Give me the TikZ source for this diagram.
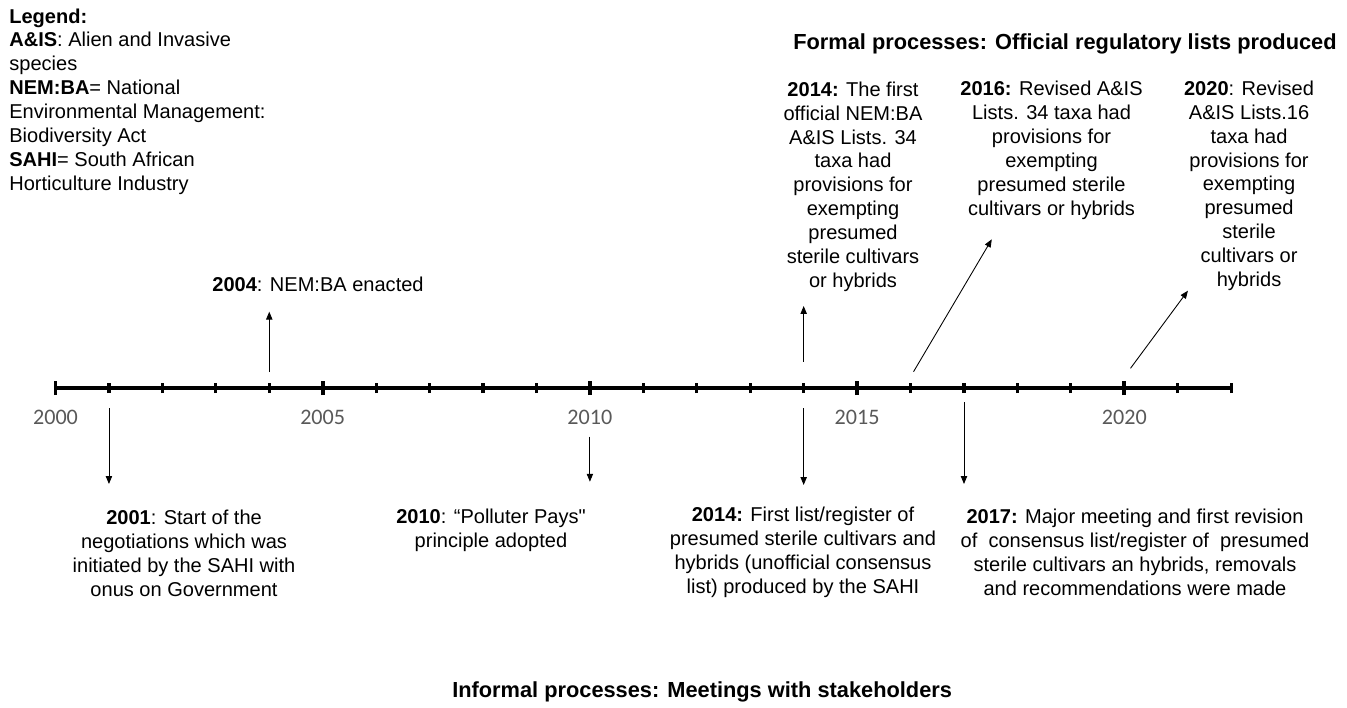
\documentclass[tikz,border=0pt]{standalone}
\usepackage{fontspec}
\setmainfont{Liberation Sans}
\newfontfamily\plainfont{Liberation Sans}
\newfontfamily\yearfont{Carlito}
\usepackage{tikz}
\usetikzlibrary{arrows.meta}
\definecolor{yearGray}{RGB}{89, 89, 89}

\begin{document}
\begin{tikzpicture}[x=1.0688cm, y=1cm, >={Triangle[length=4.5pt, width=3.6pt]},
    event/.style={align=center, inner sep=0pt, font=\fontsize{11.4}{13.6}\selectfont},
    heading/.style={inner sep=0pt, font=\fontsize{12.4}{14}\selectfont\bfseries},
    yearlabel/.style={inner sep=0pt, text=yearGray, font=\yearfont\fontsize{12.6}{14}\selectfont},
    pointer/.style={->, line width=0.5pt}]
    \useasboundingbox (-1.0386,-6.38) rectangle (24.167,7.76);

    % Time axis
    \draw[line width=2.3pt] (0,0) -- (22,0);
    \foreach \yr in {0,...,22}
        \draw[line width=1.8pt] (\yr,-0.1) -- (\yr,0.1);
    \foreach \yr in {0,5,...,20}{
        \draw[line width=2.2pt] (\yr,-0.14) -- (\yr,0.14);
        \node[yearlabel] (yl\yr) at (\yr,-0.594) {\the\numexpr2000+\yr\relax};
    }

    % Legend and headings
    \node[event, align=left, anchor=west] (legend) at (-0.870,5.73) {
        \textbf{Legend:}\\
        \textbf{A\&IS}: Alien and Invasive\\
        species\\
        \textbf{NEM:BA}= National\\
        Environmental Management:\\
        Biodiversity Act\\
        \textbf{SAHI}= South African\\
        Horticulture Industry};
    \node[heading, anchor=east] (formal) at (23.98,6.88) {Formal processes: Official regulatory lists produced};
    \node[heading] (informal) at (12.1,-6.08) {Informal processes: Meetings with stakeholders};

    % Formal processes (above the axis)
    \node[event] (t2004) at (4.912,2.08) {\textbf{2004}: NEM:BA enacted};
    \node[event] (t2014a) at (14.923,4.026) {\textbf{2014:} The first\\ official NEM:BA\\ A\&IS Lists. 34\\ taxa had\\
        provisions for\\ exempting\\ presumed\\ sterile cultivars\\ or hybrids};
    \node[event] (t2016) at (18.638,4.754) {\textbf{2016:} Revised A\&IS\\ Lists. 34 taxa had\\ provisions for\\
        exempting\\ presumed sterile\\ cultivars or hybrids};
    \node[event] (t2020) at (22.334,4.044) {\textbf{2020}: Revised\\ A\&IS Lists.16\\ taxa had\\ provisions for\\
        exempting\\ presumed\\ sterile\\ cultivars or\\ hybrids};

    % Informal processes (below the axis)
    \node[event] (t2001) at (2.405,-3.306) {\textbf{2001}: Start of the\\ negotiations which was\\
        initiated by the SAHI with\\ onus on Government};
    \node[event] (t2010) at (8.149,-2.84) {\textbf{2010}: “Polluter Pays{\plainfont"}\\ principle adopted};
    \node[event] (t2014b) at (13.987,-3.28) {\textbf{2014:} First list/register of\\ presumed sterile cultivars and\\
        hybrids (unofficial consensus\\ list) produced by the SAHI};
    \node[event] (t2017) at (20.2,-3.28) {\textbf{2017:} Major meeting and first revision\\
        of\ \ consensus list/register of\ \ presumed\\ sterile cultivars an hybrids, removals\\
        and recommendations were made};

    % Pointers
    \coordinate (s2004) at (4,0.32);      \coordinate (e2004) at (4,1.526);
    \coordinate (s2014a) at (14,0.526);   \coordinate (e2014a) at (14,1.64);
    \coordinate (s2016) at (16.056,0.326); \coordinate (e2016) at (17.52,2.974);
    \coordinate (s2020) at (20.116,0.394); \coordinate (e2020) at (21.19,1.946);
    \coordinate (s2001) at (1,-0.4);      \coordinate (e2001) at (1,-1.92);
    \coordinate (s2010) at (10,-0.974);   \coordinate (e2010) at (10,-1.874);
    \coordinate (s2014b) at (14,-0.4);    \coordinate (e2014b) at (14,-1.94);
    \coordinate (s2017) at (17,-0.28);    \coordinate (e2017) at (17,-1.92);
    \foreach \ev in {2004,2014a,2016,2020,2001,2010,2014b,2017}
        \draw[pointer] (s\ev) -- (e\ev);
\end{tikzpicture}
\end{document}
